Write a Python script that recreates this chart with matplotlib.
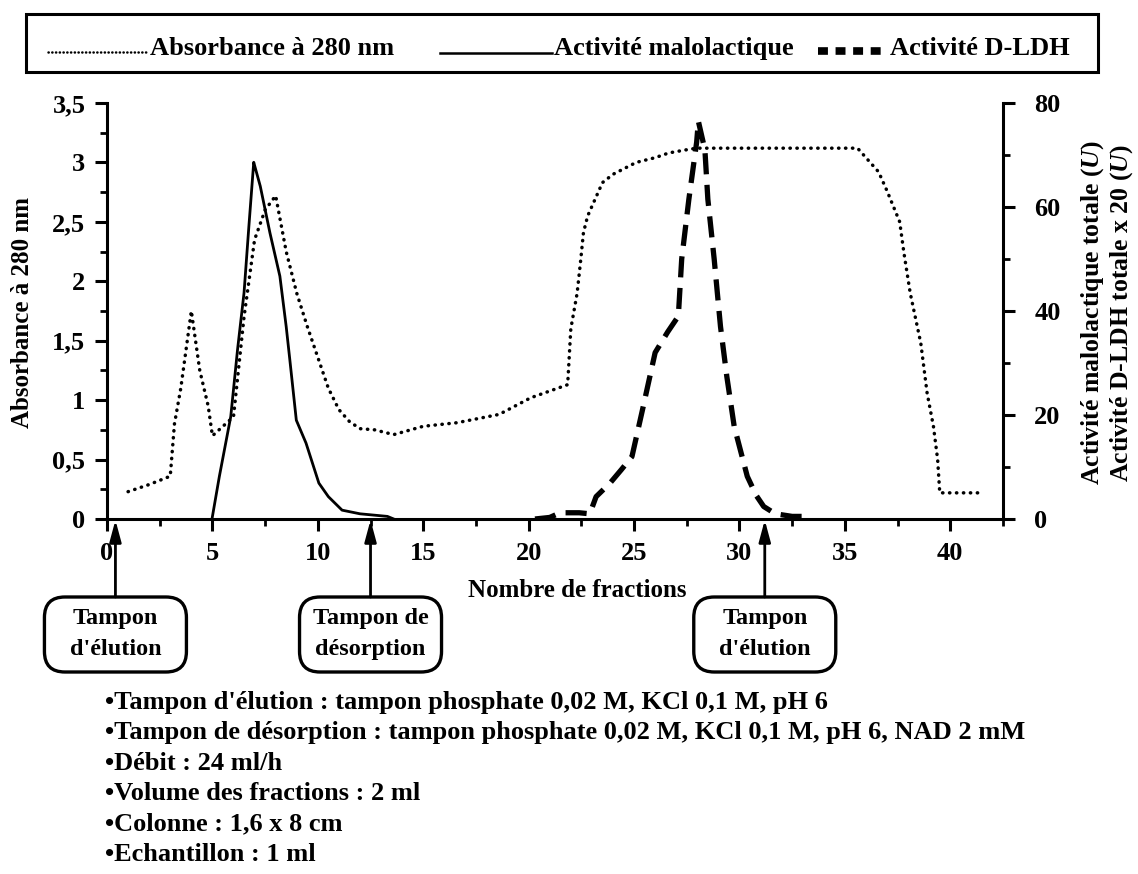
import matplotlib
matplotlib.use("Agg")
import matplotlib.pyplot as plt
from matplotlib.patches import FancyBboxPatch
from matplotlib.lines import Line2D

plt.rcParams['font.family'] = ['Liberation Serif', 'DejaVu Serif']
plt.rcParams['font.weight'] = 'bold'
plt.rcParams['mathtext.fontset'] = 'custom'
plt.rcParams['mathtext.rm'] = 'Liberation Serif:bold'
plt.rcParams['mathtext.it'] = 'Liberation Serif:italic:bold'

# Absorbance at 280 nm (left axis)
abs_frac = [1.0, 2.0, 3.0, 3.2, 3.5, 4.0, 4.4, 4.8, 5.0, 5.5, 6.0, 6.5, 7.0, 7.5, 8.0,
            8.5, 9.0, 9.5, 10.0, 10.5, 11.0, 11.5, 12.0, 12.7, 13.6, 15.0, 16.6, 18.6,
            20.1, 21.85, 22.0, 22.3, 22.47, 22.6, 22.8, 23.5, 24.0, 25.1, 26.0, 26.65,
            27.6, 28.0, 30.0, 35.6, 36.0, 36.6, 37.0, 37.6, 37.8, 38.1, 38.6, 38.9, 39.2,
            39.4, 39.5, 41.4]
abs_val = [0.23, 0.29, 0.36, 0.80, 1.10, 1.75, 1.25, 0.95, 0.70, 0.78, 0.86, 1.70, 2.35,
           2.60, 2.72, 2.25, 1.90, 1.62, 1.36, 1.10, 0.92, 0.82, 0.76, 0.75, 0.71, 0.78,
           0.81, 0.88, 1.02, 1.13, 1.60, 1.90, 2.18, 2.41, 2.55, 2.83, 2.90, 3.00, 3.04,
           3.08, 3.11, 3.12, 3.12, 3.12, 3.04, 2.92, 2.76, 2.50, 2.24, 1.90, 1.48, 1.06,
           0.78, 0.50, 0.22, 0.22]

# Malolactic activity, U (right axis)
malo_frac = [4.98, 5.33, 5.87, 6.19, 6.5, 6.73, 6.96, 7.0, 7.27, 7.73, 8.2, 8.5, 8.67,
             8.98, 9.44, 10.05, 10.5, 11.15, 12.0, 13.3, 13.6]
malo_val = [0, 8.2, 19.7, 32.5, 43.5, 56.3, 68.6, 68.0, 64.0, 55.0, 46.7, 37.0, 30.7,
            19.0, 14.6, 6.9, 4.3, 1.7, 1.0, 0.5, 0]

# D-LDH activity x 20, U (right axis)
ldh_frac = [20.3, 21.0, 21.5, 22.4, 22.9, 23.2, 23.86, 24.4, 24.9, 25.4, 26.0, 26.6,
            27.1, 27.26, 27.6, 27.97, 28.05, 28.36, 28.5, 28.8, 29.1, 29.4, 29.75,
            30.37, 30.8, 31.15, 31.7, 32.5, 33.4]
ldh_val = [0, 0.3, 1.2, 1.2, 1.0, 4.3, 6.9, 9.5, 12.0, 21.0, 32.0, 36.0, 39.0, 50.0,
           61.5, 72.5, 76.5, 71.0, 61.5, 50.0, 37.0, 27.4, 17.8, 8.2, 4.5, 2.4, 1.0,
           0.5, 0.5]

x_ticks = [0, 5, 10, 15, 20, 25, 30, 35, 40]
left_ticks = [0, 0.5, 1, 1.5, 2, 2.5, 3, 3.5]
left_labels = ['0', '0,5', '1', '1,5', '2', '2,5', '3', '3,5']
right_ticks = [0, 20, 40, 60, 80]

buffers = [(0.4, "Tampon\nd'élution"), (12.5, "Tampon de\ndésorption"),
           (31.2, "Tampon\nd'élution")]

notes = ["Tampon d'élution : tampon phosphate 0,02 M, KCl 0,1 M, pH 6",
         "Tampon de désorption : tampon phosphate 0,02 M, KCl 0,1 M, pH 6, NAD 2 mM",
         "Débit : 24 ml/h",
         "Volume des fractions : 2 ml",
         "Colonne : 1,6 x 8 cm",
         "Echantillon : 1 ml"]

W, H = 1138, 874
fig = plt.figure(figsize=(W / 100, H / 100), dpi=100)


def fx(x):
    return x / W


def fy(y):
    return 1 - y / H


ax = fig.add_axes([fx(107), fy(519), fx(1003) - fx(107), fy(103) - fy(519)])
ax2 = ax.twinx()

ax.plot(abs_frac, abs_val, color='black', lw=2.5, linestyle=(0, (0.1, 1.9)),
        dash_capstyle='round')
ax2.plot(malo_frac, malo_val, color='black', lw=2.0)
ax2.plot(ldh_frac, ldh_val, color='black', lw=3.8, linestyle=(0, (4, 2)))

ax.set_xlim(0, 41.6)
ax.set_ylim(0, 3.5)
ax2.set_ylim(0, 80)

ax.set_xticks(x_ticks)
ax.set_xticks([v + 2.5 for v in x_ticks], minor=True)
ax.set_yticks(left_ticks)
ax.set_yticklabels(left_labels)
ax.set_yticks([v + 0.25 for v in left_ticks[:-1]], minor=True)
ax2.set_yticks(right_ticks)
ax2.set_yticks([v + 10 for v in right_ticks[:-1]], minor=True)

for a in (ax, ax2):
    a.spines['top'].set_visible(False)
    for s in a.spines.values():
        s.set_linewidth(2.2)
    a.tick_params(which='major', length=8.5, width=2.2, labelsize=19, direction='out')
    a.tick_params(which='minor', length=5, width=2.0, direction='out')
ax.tick_params(axis='x', pad=8)
ax.tick_params(axis='y', pad=7)
ax2.tick_params(axis='y', pad=14)
ax.spines['right'].set_visible(False)
ax2.spines['left'].set_visible(False)
ax2.spines['bottom'].set_visible(False)

# axis titles
fig.text(fx(23), fy(313), 'Absorbance à 280 nm', rotation=90, ha='center',
         va='center', fontsize=18)
fig.text(fx(1093), fy(313), 'Activité malolactique totale ($U$)', rotation=90,
         ha='center', va='center', fontsize=18.5)
fig.text(fx(1122), fy(313), 'Activité D-LDH totale x 20 ($U$)', rotation=90,
         ha='center', va='center', fontsize=18.5)
fig.text(fx(468), fy(597), 'Nombre de fractions', ha='left', va='baseline',
         fontsize=18)

# legend frame
fig.patches.append(plt.Rectangle((fx(26), fy(72)), fx(1098) - fx(26), fy(14) - fy(72),
                                 transform=fig.transFigure, fill=False, lw=2.2,
                                 edgecolor='black'))
fig.lines.append(Line2D([fx(48), fx(148)], [fy(52), fy(52)], transform=fig.transFigure,
                        color='black', lw=1.8, linestyle=(0, (0.1, 1.4)),
                        dash_capstyle='round'))
fig.text(fx(150), fy(55), 'Absorbance à 280 nm', ha='left', va='baseline', fontsize=19)
fig.lines.append(Line2D([fx(440), fx(552)], [fy(53), fy(53)], transform=fig.transFigure,
                        color='black', lw=1.8))
fig.text(fx(554), fy(55), 'Activité malolactique', ha='left', va='baseline', fontsize=19)
fig.lines.append(Line2D([fx(818), fx(888)], [fy(51), fy(51)], transform=fig.transFigure,
                        color='black', lw=5.5, linestyle=(0, (1.3, 1.0))))
fig.text(fx(890), fy(55), 'Activité D-LDH', ha='left', va='baseline', fontsize=19)

# buffer boxes with arrows pointing to the fraction axis
box_w, box_h = 142, 75
for frac, label in buffers:
    cx, _ = ax.transData.transform((frac, 0))
    fig.patches.append(FancyBboxPatch((fx(cx - box_w / 2), fy(597 + box_h)),
                                      fx(box_w), box_h / H,
                                      boxstyle='round,pad=0,rounding_size=0.018',
                                      transform=fig.transFigure, fill=False, lw=2.4,
                                      edgecolor='black', mutation_aspect=W / H))
    fig.text(fx(cx), fy(634), label, ha='center', va='center', fontsize=17.5,
             linespacing=1.65)
    ax.annotate('', xy=(fx(cx), fy(520)), xycoords='figure fraction',
                xytext=(fx(cx), fy(597)), textcoords='figure fraction',
                arrowprops=dict(arrowstyle='-|>,head_length=1.3,head_width=0.35',
                                color='black', lw=2.0, shrinkA=0, shrinkB=0),
                annotation_clip=False)

# experimental conditions
for i, line in enumerate(notes):
    fig.text(fx(105), fy(709 + 30.4 * i), '•' + line, ha='left', va='baseline',
             fontsize=19)

fig.savefig('out.png', dpi=100)
